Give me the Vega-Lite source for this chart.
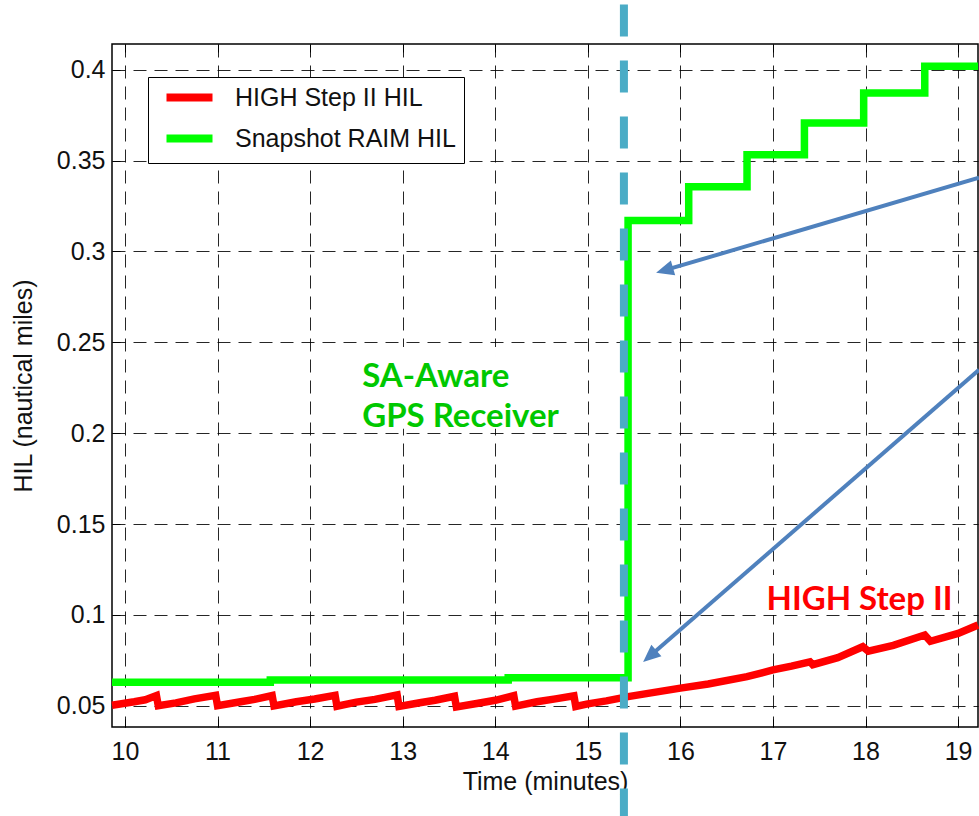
{
  "$schema": "https://vega.github.io/schema/vega-lite/v6.json",
  "width": 866,
  "height": 683,
  "autosize": {"type": "none"},
  "padding": {"left": 112, "top": 44, "right": 1, "bottom": 89},
  "background": "white",
  "config": {
    "font": "Liberation Sans",
    "view": {"stroke": "#000", "strokeWidth": 1.5},
    "axis": {
      "grid": true,
      "gridDash": [13, 8],
      "gridColor": "#000",
      "gridOpacity": 0.85,
      "gridWidth": 1,
      "domain": false,
      "ticks": true,
      "tickSize": -8,
      "tickColor": "#000",
      "labelFontSize": 25,
      "labelColor": "#111",
      "labelFlush": false,
      "labelOverlap": false,
      "titleFontSize": 25,
      "titleFontWeight": "normal",
      "titleColor": "#111"
    },
    "legend": {
      "orient": "none",
      "legendX": 36,
      "legendY": 33,
      "strokeColor": "#000",
      "fillColor": "white",
      "padding": 8,
      "symbolType": "M-5.75,0L5.75,0",
      "symbolSize": 64,
      "symbolStrokeWidth": 8,
      "symbolOffset": 21,
      "labelFontSize": 25,
      "labelFont": "Liberation Sans",
      "labelColor": "#111",
      "labelOffset": 33,
      "labelLimit": 400,
      "rowPadding": 8,
      "title": null
    }
  },
  "resolve": {"axis": {"x": "independent"}},
  "datasets": {
    "lines": [
      {"series": "Snapshot RAIM HIL", "t": 9.86, "v": 0.0629},
      {"series": "Snapshot RAIM HIL", "t": 11.57, "v": 0.0641},
      {"series": "Snapshot RAIM HIL", "t": 14.14, "v": 0.0654},
      {"series": "Snapshot RAIM HIL", "t": 15.435, "v": 0.3171},
      {"series": "Snapshot RAIM HIL", "t": 16.09, "v": 0.3356},
      {"series": "Snapshot RAIM HIL", "t": 16.72, "v": 0.3532},
      {"series": "Snapshot RAIM HIL", "t": 17.34, "v": 0.3707},
      {"series": "Snapshot RAIM HIL", "t": 17.98, "v": 0.3872},
      {"series": "Snapshot RAIM HIL", "t": 18.64, "v": 0.4019},
      {"series": "Snapshot RAIM HIL", "t": 19.215, "v": 0.4019}
    ],
    "red": [
      {"series": "HIGH Step II HIL", "t": 9.86, "v": 0.0503},
      {"series": "HIGH Step II HIL", "t": 10.10, "v": 0.0522},
      {"series": "HIGH Step II HIL", "t": 10.22, "v": 0.0533},
      {"series": "HIGH Step II HIL", "t": 10.34, "v": 0.0556},
      {"series": "HIGH Step II HIL", "t": 10.36, "v": 0.0500},
      {"series": "HIGH Step II HIL", "t": 10.55, "v": 0.0516},
      {"series": "HIGH Step II HIL", "t": 10.75, "v": 0.0538},
      {"series": "HIGH Step II HIL", "t": 10.98, "v": 0.0558},
      {"series": "HIGH Step II HIL", "t": 11.00, "v": 0.0500},
      {"series": "HIGH Step II HIL", "t": 11.25, "v": 0.0522},
      {"series": "HIGH Step II HIL", "t": 11.40, "v": 0.0535},
      {"series": "HIGH Step II HIL", "t": 11.59, "v": 0.0556},
      {"series": "HIGH Step II HIL", "t": 11.61, "v": 0.0499},
      {"series": "HIGH Step II HIL", "t": 11.85, "v": 0.0522},
      {"series": "HIGH Step II HIL", "t": 12.05, "v": 0.0537},
      {"series": "HIGH Step II HIL", "t": 12.27, "v": 0.0557},
      {"series": "HIGH Step II HIL", "t": 12.29, "v": 0.0497},
      {"series": "HIGH Step II HIL", "t": 12.50, "v": 0.0520},
      {"series": "HIGH Step II HIL", "t": 12.70, "v": 0.0535},
      {"series": "HIGH Step II HIL", "t": 12.94, "v": 0.0560},
      {"series": "HIGH Step II HIL", "t": 12.96, "v": 0.0496},
      {"series": "HIGH Step II HIL", "t": 13.20, "v": 0.0518},
      {"series": "HIGH Step II HIL", "t": 13.35, "v": 0.0530},
      {"series": "HIGH Step II HIL", "t": 13.56, "v": 0.0552},
      {"series": "HIGH Step II HIL", "t": 13.58, "v": 0.0493},
      {"series": "HIGH Step II HIL", "t": 13.80, "v": 0.0512},
      {"series": "HIGH Step II HIL", "t": 14.00, "v": 0.0530},
      {"series": "HIGH Step II HIL", "t": 14.20, "v": 0.0556},
      {"series": "HIGH Step II HIL", "t": 14.22, "v": 0.0498},
      {"series": "HIGH Step II HIL", "t": 14.45, "v": 0.0522},
      {"series": "HIGH Step II HIL", "t": 14.65, "v": 0.0538},
      {"series": "HIGH Step II HIL", "t": 14.85, "v": 0.0555},
      {"series": "HIGH Step II HIL", "t": 14.87, "v": 0.0496},
      {"series": "HIGH Step II HIL", "t": 15.00, "v": 0.0510},
      {"series": "HIGH Step II HIL", "t": 15.20, "v": 0.0527},
      {"series": "HIGH Step II HIL", "t": 15.435, "v": 0.0550},
      {"series": "HIGH Step II HIL", "t": 15.70, "v": 0.0572},
      {"series": "HIGH Step II HIL", "t": 16.00, "v": 0.0597},
      {"series": "HIGH Step II HIL", "t": 16.30, "v": 0.0620},
      {"series": "HIGH Step II HIL", "t": 16.72, "v": 0.0660},
      {"series": "HIGH Step II HIL", "t": 17.00, "v": 0.0697},
      {"series": "HIGH Step II HIL", "t": 17.20, "v": 0.0718},
      {"series": "HIGH Step II HIL", "t": 17.40, "v": 0.0742},
      {"series": "HIGH Step II HIL", "t": 17.43, "v": 0.0726},
      {"series": "HIGH Step II HIL", "t": 17.70, "v": 0.0765},
      {"series": "HIGH Step II HIL", "t": 17.97, "v": 0.0825},
      {"series": "HIGH Step II HIL", "t": 18.03, "v": 0.0800},
      {"series": "HIGH Step II HIL", "t": 18.30, "v": 0.0832},
      {"series": "HIGH Step II HIL", "t": 18.64, "v": 0.0889},
      {"series": "HIGH Step II HIL", "t": 18.70, "v": 0.0855},
      {"series": "HIGH Step II HIL", "t": 19.00, "v": 0.0898},
      {"series": "HIGH Step II HIL", "t": 19.215, "v": 0.0944}
    ],
    "boxes": [
      {"t": 12.49, "t2": 14.76, "v": 0.2024, "v2": 0.2475},
      {"t": 16.77, "t2": 19.0, "v": 0.1, "v2": 0.122}
    ],
    "labels": [
      {"text": "SA-Aware", "t": 12.563, "v": 0.2255, "c": "#00c800"},
      {"text": "GPS Receiver", "t": 12.563, "v": 0.2035, "c": "#00c800"},
      {"text": "HIGH Step II", "t": 16.93, "v": 0.1027, "c": "#ff0000"}
    ],
    "arrows": [
      {"t": 19.226, "v": 0.3406, "t2": 15.852, "v2": 0.29, "angle": 253.6},
      {"t": 19.226, "v": 0.2349, "t2": 15.687, "v2": 0.078, "angle": 229}
    ],
    "marker": [
      {"t": 15.39, "v": 0.436, "v2": -0.011}
    ]
  },
  "layer": [
    {
      "data": {"name": "boxes"},
      "mark": {"type": "rect", "color": "white"},
      "encoding": {
        "x": {
          "field": "t", "type": "quantitative",
          "scale": {"domain": [9.86, 19.215], "nice": false, "zero": false},
          "axis": {
            "title": "Time (minutes)",
            "orient": "bottom",
            "values": [10, 11, 12, 13, 14, 15, 16, 17, 18, 19],
            "format": "d",
            "labelPadding": 20,
            "titleY": 62,
            "titleBaseline": "alphabetic"
          }
        },
        "x2": {"field": "t2"},
        "y": {
          "field": "v", "type": "quantitative",
          "scale": {"domain": [0.0383, 0.4142], "nice": false, "zero": false},
          "axis": {
            "title": "HIL (nautical miles)",
            "values": [0.05, 0.1, 0.15, 0.2, 0.25, 0.3, 0.35, 0.4],
            "format": "~g",
            "labelPadding": 15,
            "titleX": -81,
            "titleY": 341.5,
            "titleAngle": -90,
            "titleAlign": "center",
            "titleBaseline": "alphabetic"
          }
        },
        "y2": {"field": "v2"}
      }
    },
    {
      "data": {"name": "lines"},
      "mark": {"type": "line", "interpolate": "step-after", "strokeWidth": 7.5, "strokeCap": "butt", "strokeJoin": "miter"},
      "encoding": {
        "x": {
          "field": "t", "type": "quantitative",
          "axis": {
            "orient": "top",
            "title": null,
            "values": [10, 11, 12, 13, 14, 15, 16, 17, 18, 19],
            "labels": false,
            "grid": false,
            "ticks": true,
            "tickSize": -8
          }
        },
        "y": {"field": "v", "type": "quantitative"},
        "color": {
          "field": "series", "type": "nominal",
          "scale": {"domain": ["HIGH Step II HIL", "Snapshot RAIM HIL"], "range": ["#ff0000", "#00ff00"]},
          "legend": {}
        }
      }
    },
    {
      "data": {"name": "red"},
      "mark": {"type": "line", "strokeWidth": 7.5, "strokeCap": "butt", "strokeJoin": "miter"},
      "encoding": {
        "x": {"field": "t", "type": "quantitative", "axis": null},
        "y": {"field": "v", "type": "quantitative"},
        "color": {"field": "series", "type": "nominal"}
      }
    },
    {
      "data": {"name": "labels"},
      "mark": {"type": "text", "font": "Lato", "fontWeight": "bold", "fontSize": 33, "align": "left", "baseline": "alphabetic"},
      "encoding": {
        "x": {"field": "t", "type": "quantitative", "axis": null},
        "y": {"field": "v", "type": "quantitative"},
        "text": {"field": "text"},
        "fill": {"field": "c", "type": "nominal", "scale": null, "legend": null}
      }
    },
    {
      "data": {"name": "arrows"},
      "mark": {"type": "rule", "color": "#4f81bd", "strokeWidth": 4},
      "encoding": {
        "x": {"field": "t", "type": "quantitative", "axis": null},
        "y": {"field": "v", "type": "quantitative"},
        "x2": {"field": "t2"},
        "y2": {"field": "v2"}
      }
    },
    {
      "data": {"name": "arrows"},
      "mark": {"type": "point", "shape": "M0,-1L0.7,0.6L-0.7,0.6Z", "filled": true, "color": "#4f81bd", "opacity": 1, "size": 484},
      "encoding": {
        "x": {"field": "t2", "type": "quantitative", "axis": null},
        "y": {"field": "v2", "type": "quantitative"},
        "angle": {"field": "angle", "type": "quantitative", "scale": null}
      }
    },
    {
      "data": {"name": "marker"},
      "mark": {"type": "rule", "color": "#4bacc6", "strokeWidth": 8, "strokeDash": [32, 24]},
      "encoding": {
        "x": {"field": "t", "type": "quantitative", "axis": null},
        "y": {"field": "v", "type": "quantitative"},
        "y2": {"field": "v2"}
      }
    }
  ]
}
